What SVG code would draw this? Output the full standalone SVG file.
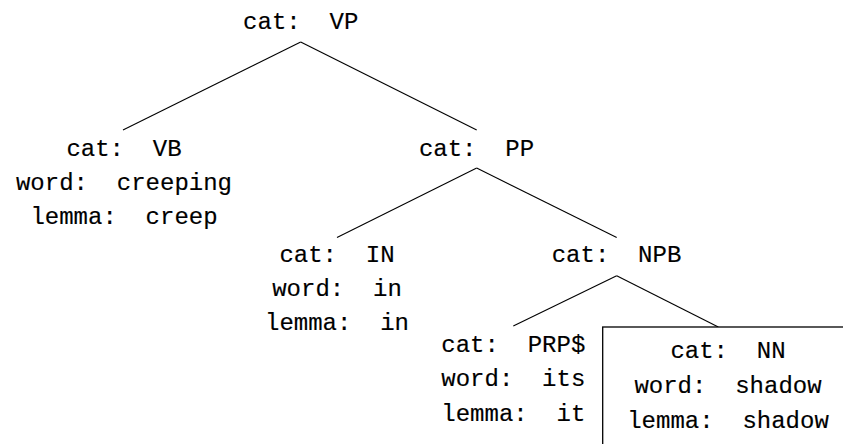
<svg xmlns="http://www.w3.org/2000/svg" width="843" height="444" viewBox="0 0 843 444">
  <style>
    text { font-family: "Liberation Mono", "DejaVu Sans Mono", monospace; font-size: 24px; fill: #000; stroke: #000; stroke-width: 0.15px; text-anchor: middle; white-space: pre; }
    .edge { stroke: #000; stroke-width: 1.1; fill: none; }
    .frame { stroke: #000; stroke-width: 1.3; fill: #fff; }
  </style>
  <rect width="843" height="444" fill="#fff"/>

  <!-- tree edges -->
  <g id="edges">
    <line class="edge" x1="300.7" y1="42" x2="123" y2="130"/>
    <line class="edge" x1="300.7" y1="42" x2="476.7" y2="130"/>
    <line class="edge" x1="476.7" y1="168" x2="337" y2="237.6"/>
    <line class="edge" x1="476.7" y1="168" x2="616.7" y2="237.6"/>
    <line class="edge" x1="616.7" y1="275.7" x2="513.3" y2="326"/>
    <line class="edge" x1="616.7" y1="275.7" x2="718.3" y2="327"/>
  </g>

  <g id="node-vp">
    <text x="300.7" y="28.6">cat:  VP</text>
  </g>

  <g id="node-vb">
    <text x="124" y="155.5">cat:  VB</text>
    <text x="124" y="189.8">word:  creeping</text>
    <text x="124" y="224">lemma:  creep</text>
  </g>

  <g id="node-pp">
    <text x="476.5" y="155.5">cat:  PP</text>
  </g>

  <g id="node-in">
    <text x="337" y="261.7">cat:  IN</text>
    <text x="337" y="296">word:  in</text>
    <text x="337" y="330.3">lemma:  in</text>
  </g>

  <g id="node-npb">
    <text x="616.5" y="261.7">cat:  NPB</text>
  </g>

  <g id="node-prp">
    <text x="513.3" y="351.7">cat:  PRP$</text>
    <text x="513.3" y="386.2">word:  its</text>
    <text x="513.3" y="420.5">lemma:  it</text>
  </g>

  <g id="node-nn">
    <rect class="frame" x="602.7" y="327" width="260" height="140"/>
    <text x="728" y="358.3">cat:  NN</text>
    <text x="728" y="393.3">word:  shadow</text>
    <text x="728" y="428.3">lemma:  shadow</text>
  </g>
</svg>
